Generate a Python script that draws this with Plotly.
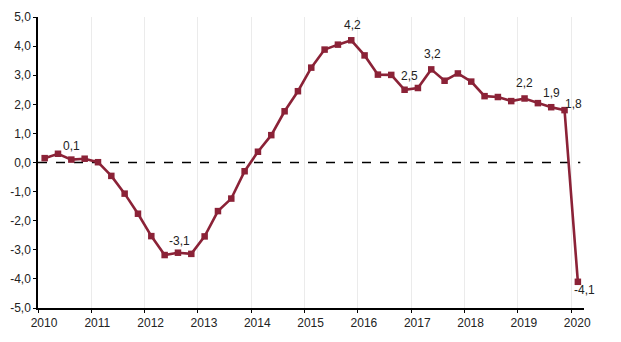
import plotly.graph_objects as go

# Quarterly growth rate (%), 2010 Q1 - 2020 Q1
years = [2010] * 4 + [2011] * 4 + [2012] * 4 + [2013] * 4 + [2014] * 4 + \
        [2015] * 4 + [2016] * 4 + [2017] * 4 + [2018] * 4 + [2019] * 4 + [2020]
quarters = [1, 2, 3, 4] * 10 + [1]
values = [
    0.15, 0.30, 0.10, 0.13,
    0.01, -0.46, -1.07, -1.76,
    -2.53, -3.18, -3.10, -3.14,
    -2.54, -1.67, -1.24, -0.30,
    0.37, 0.94, 1.76, 2.45,
    3.26, 3.88, 4.05, 4.20,
    3.68, 3.02, 3.01, 2.50,
    2.56, 3.20, 2.81, 3.06,
    2.78, 2.28, 2.25, 2.11,
    2.20, 2.04, 1.90, 1.80,
    -4.10,
]

# Labelled quarters: (year, quarter, x shift px, y shift px)
labelled = [
    (2010, 3, 0, 14),
    (2012, 3, 2, 12),
    (2015, 4, 1, 15),
    (2016, 4, 5, 14),
    (2017, 2, 1, 15),
    (2019, 1, 0, 15),
    (2019, 3, 0, 14),
    (2019, 4, 9, 6),
    (2020, 1, 7, -8),
]

year_ticks = list(range(2010, 2021))
y_ticks = [5, 4, 3, 2, 1, 0, -1, -2, -3, -4, -5]

LINE = "#8B2237"
FONT = "Liberation Sans, Arial, sans-serif"

# Each quarter sits in the middle of its span on a continuous year axis
xpos = [y + (q - 0.5) / 4 for y, q in zip(years, quarters)]


def fmt(v):
    return f"{v:.1f}".replace(".", ",")


fig = go.Figure()
fig.add_trace(go.Scatter(
    x=xpos, y=values, mode="lines+markers",
    line=dict(color=LINE, width=2.6),
    marker=dict(symbol="square", size=6.5, color=LINE),
    hoverinfo="skip",
))

# Dashed zero reference line
fig.add_shape(type="line", xref="x", yref="y", x0=2010, x1=2020.17, y0=0, y1=0,
              line=dict(color="black", width=1.3, dash="dash"), layer="below")

for yr, q, dx, dy in labelled:
    i = next(k for k in range(len(years)) if years[k] == yr and quarters[k] == q)
    fig.add_annotation(x=xpos[i], y=values[i], text=fmt(values[i]), showarrow=False,
                       xshift=dx, yshift=dy, font=dict(size=12, color="#222", family=FONT))

fig.update_layout(
    width=621, height=342,
    margin=dict(l=38, r=37, t=10, b=34),
    paper_bgcolor="white", plot_bgcolor="white",
    showlegend=False,
    font=dict(family=FONT, size=12, color="#222"),
)
fig.update_xaxes(
    range=[2010, 2020.24], tickmode="array", tickvals=year_ticks,
    ticktext=[str(y) for y in year_ticks],
    showgrid=True, gridcolor="#ebebeb", gridwidth=1,
    showline=True, linecolor="black", linewidth=1.5,
    ticks="outside", ticklen=3, tickcolor="black", zeroline=False,
    ticklabelshift=6,
)
fig.update_yaxes(
    range=[-5, 5], tickmode="array", tickvals=y_ticks,
    ticktext=[fmt(v) for v in y_ticks],
    showgrid=False, showline=True, linecolor="black", linewidth=1.5,
    ticks="outside", ticklen=3, tickcolor="black", zeroline=False,
)

fig.write_html("out.html")
